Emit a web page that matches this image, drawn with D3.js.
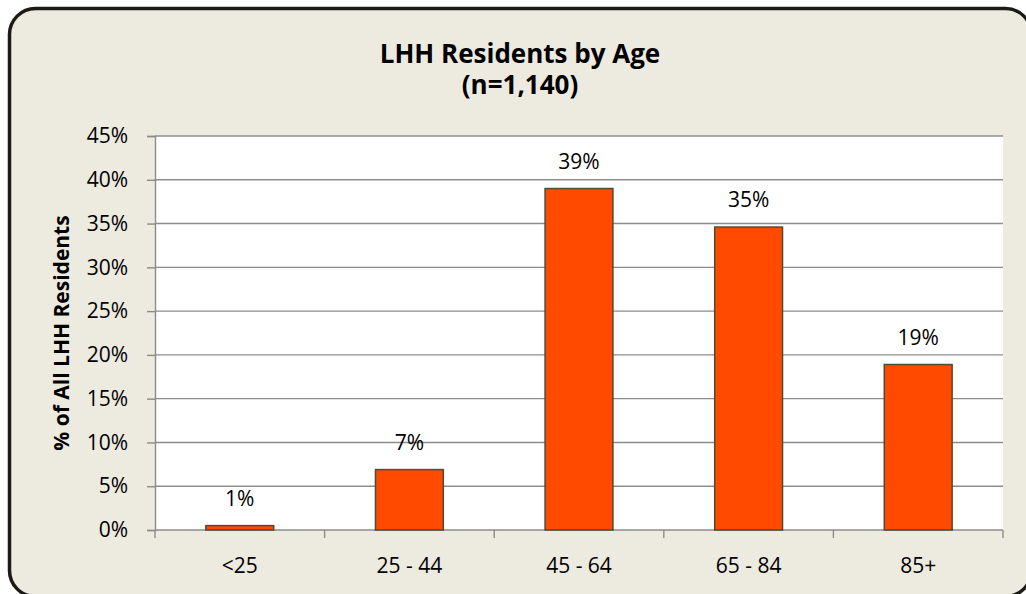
<!DOCTYPE html>
<html>
<head>
<meta charset="utf-8">
<script src="https://cdn.jsdelivr.net/npm/d3@7"></script>
<style>
  html, body { margin: 0; padding: 0; background: #fff; }
  svg { display: block; font-family: "Open Sans", sans-serif; }
</style>
</head>
<body>
<svg id="chart" width="1026" height="594"></svg>
<script>
const categories = ["<25", "25 - 44", "45 - 64", "65 - 84", "85+"];
const values = [0.5, 6.9, 39.0, 34.6, 18.9];
const yTicks = [0, 5, 10, 15, 20, 25, 30, 35, 40, 45];

const W = 1026;
const H = 594;
const margin = { top: 136, right: 23, bottom: 64, left: 155 };
const FONT = "'Open Sans', sans-serif";

const svg = d3.select("#chart");

// outer frame, runs off the right and bottom edges
svg.append("rect")
  .attr("x", 9.5)
  .attr("y", 8.5)
  .attr("width", 1022)
  .attr("height", 588)
  .attr("rx", 26)
  .attr("fill", "#edeae0")
  .attr("stroke", "#1b1a14")
  .attr("stroke-width", 3.5);

const x = d3.scaleBand()
  .domain(categories)
  .range([margin.left, W - margin.right])
  .paddingInner(0.6)
  .paddingOuter(0.3);

const y = d3.scaleLinear()
  .domain([0, 45])
  .range([H - margin.bottom, margin.top]);

// plot area
svg.append("rect")
  .attr("x", margin.left)
  .attr("y", margin.top)
  .attr("width", W - margin.right - margin.left)
  .attr("height", y(0) - margin.top)
  .attr("fill", "#fff");

// gridlines
svg.append("g")
  .selectAll("line")
  .data(yTicks.filter(d => d > 0))
  .join("line")
  .attr("x1", margin.left)
  .attr("x2", W - margin.right)
  .attr("y1", d => y(d))
  .attr("y2", d => y(d))
  .attr("stroke", "#8c8c8c")
  .attr("stroke-width", 1.4);

// y axis
const yAxis = svg.append("g")
  .attr("transform", `translate(${margin.left},0)`)
  .call(d3.axisLeft(y)
    .tickValues(yTicks)
    .tickSize(8)
    .tickPadding(19)
    .tickFormat(d => d + "%"));

// x axis, ticks at category boundaries
const xAxis = svg.append("g")
  .attr("transform", `translate(0,${y(0)})`)
  .call(d3.axisBottom(x).tickSize(0));

xAxis.selectAll(".tick text").attr("y", 43).attr("dy", null);

xAxis.selectAll(".boundary")
  .data(d3.range(categories.length + 1))
  .join("line")
  .attr("class", "boundary")
  .attr("x1", i => margin.left + i * x.step())
  .attr("x2", i => margin.left + i * x.step())
  .attr("y1", 0)
  .attr("y2", 8)
  .attr("stroke", "#8c8c8c")
  .attr("stroke-width", 1.4);

[yAxis, xAxis].forEach(g => {
  g.select(".domain").attr("stroke", "#8c8c8c").attr("stroke-width", 1.4);
  g.selectAll(".tick line").attr("stroke", "#8c8c8c").attr("stroke-width", 1.4);
  g.selectAll(".tick text")
    .attr("font-family", FONT)
    .attr("font-size", 21)
    .attr("fill", "#000");
});
xAxis.select(".domain").attr("d", `M${margin.left},0H${W - margin.right}`);

// bars
svg.append("g")
  .selectAll("rect")
  .data(values)
  .join("rect")
  .attr("x", (d, i) => x(categories[i]))
  .attr("y", d => y(d))
  .attr("width", x.bandwidth())
  .attr("height", d => y(0) - y(d))
  .attr("fill", "#ff4a00")
  .attr("stroke", "#4d4a36")
  .attr("stroke-width", 1.5);

// data labels
svg.append("g")
  .selectAll("text")
  .data(values)
  .join("text")
  .attr("x", (d, i) => x(categories[i]) + x.bandwidth() / 2)
  .attr("y", d => y(d) - 20)
  .attr("text-anchor", "middle")
  .attr("font-size", 21)
  .attr("fill", "#000")
  .text(d => Math.round(d) + "%");

// title
const title = svg.append("text")
  .attr("text-anchor", "middle")
  .attr("font-size", 26)
  .attr("font-weight", "bold")
  .attr("fill", "#000");
title.append("tspan").attr("x", 520).attr("y", 63).text("LHH Residents by Age");
title.append("tspan").attr("x", 520).attr("y", 94).text("(n=1,140)");

// y axis title
svg.append("text")
  .attr("transform", `translate(69,${(y(0) + margin.top) / 2}) rotate(-90)`)
  .attr("text-anchor", "middle")
  .attr("font-size", 21)
  .attr("font-weight", "bold")
  .attr("fill", "#000")
  .text("% of All LHH Residents");
</script>
</body>
</html>
